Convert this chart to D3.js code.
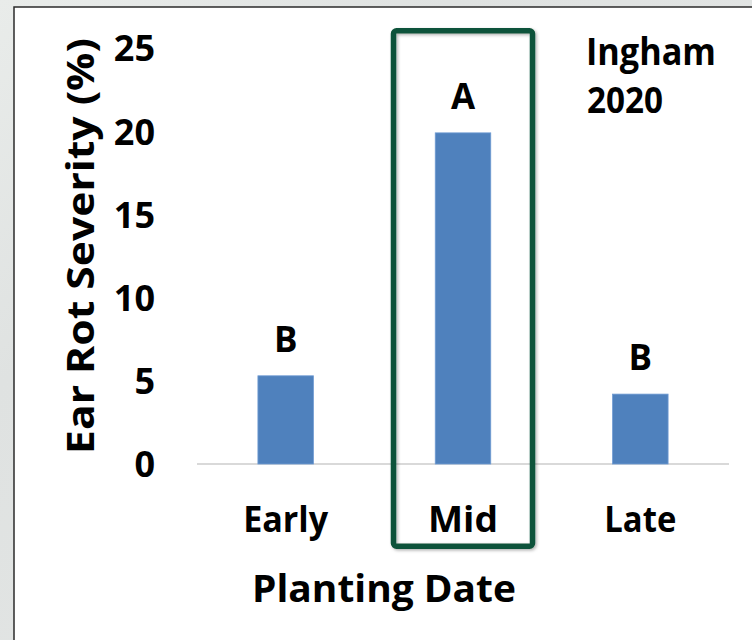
<!DOCTYPE html>
<html>
<head>
<meta charset="utf-8">
<script src="https://cdn.jsdelivr.net/npm/d3@7/dist/d3.min.js"></script>
<style>
  html, body { margin: 0; padding: 0; background: #e4e7e6; }
  svg { display: block; }
  text { font-family: "Open Sans", "DejaVu Sans", sans-serif; font-weight: 700; fill: #000; }
</style>
</head>
<body>
<svg id="chart" width="752" height="640"></svg>
<script>
// Ear rot severity by planting date, Ingham 2020
const categories = ["Early", "Mid", "Late"];
const severity = [5.3, 19.9, 4.2];
const groupLetters = ["B", "A", "B"];
const yTicks = [0, 5, 10, 15, 20, 25];
const highlighted = "Mid";

const svg = d3.select("#chart");
const W = 752, H = 640;

// slide backdrop
const defs = svg.append("defs");
const bg = defs.append("linearGradient").attr("id", "bg").attr("x1", 0).attr("y1", 0).attr("x2", 1).attr("y2", 1);
bg.append("stop").attr("offset", 0).attr("stop-color", "#e9ecea");
bg.append("stop").attr("offset", 0.3).attr("stop-color", "#dfe2e1");
bg.append("stop").attr("offset", 1).attr("stop-color", "#e6e8e7");
svg.append("rect").attr("width", W).attr("height", H).attr("fill", "url(#bg)");

const shadow = defs.append("filter").attr("id", "shadow")
  .attr("x", "-10%").attr("y", "-10%").attr("width", "120%").attr("height", "120%");
shadow.append("feDropShadow").attr("dx", 1.5).attr("dy", 1.5).attr("stdDeviation", 1.5)
  .attr("flood-color", "#000").attr("flood-opacity", 0.3);

// white chart panel with dark top/left edge
const panel = { x: 14, y: 7 };
svg.append("rect").attr("x", panel.x).attr("y", panel.y)
  .attr("width", W - panel.x).attr("height", H - panel.y).attr("fill", "#fff");
svg.append("path")
  .attr("d", `M${panel.x},${H} V${panel.y} H${W}`)
  .attr("fill", "none").attr("stroke", "#2b2b2b").attr("stroke-width", 1.5);

// scales
const plot = { left: 197, right: 729, top: 48, bottom: 464 };
const x = d3.scaleBand().domain(categories).range([plot.left, plot.right])
  .paddingInner(0.687).paddingOuter(0.3435);
const y = d3.scaleLinear().domain([0, 25]).range([plot.bottom, plot.top]);

function fit(sel, len) {
  sel.attr("textLength", len).attr("lengthAdjust", "spacingAndGlyphs");
  return sel;
}

// value axis (labels only)
const yAxis = svg.append("g")
  .attr("transform", "translate(155,0)")
  .call(d3.axisLeft(y).tickValues(yTicks).tickSize(0).tickPadding(0));
yAxis.select(".domain").remove();
yAxis.selectAll("text")
  .attr("font-size", 36).attr("font-family", null).attr("dy", "0.36em").attr("fill", "#000");

// baseline
svg.append("line")
  .attr("x1", plot.left).attr("x2", plot.right)
  .attr("y1", y(0)).attr("y2", y(0))
  .attr("stroke", "#d9d9d9").attr("stroke-width", 2);

// bars
const rows = categories.map((c, i) => ({ cat: c, v: severity[i], g: groupLetters[i] }));
svg.append("g").selectAll("rect").data(rows).join("rect")
  .attr("x", d => x(d.cat))
  .attr("y", d => y(d.v))
  .attr("width", x.bandwidth())
  .attr("height", d => y(0) - y(d.v))
  .attr("fill", "#4f81bd")
  .attr("stroke", "#6f9bd3").attr("stroke-width", 0.8);

// significance letters
svg.append("g").selectAll("text").data(rows).join("text")
  .attr("x", d => x(d.cat) + x.bandwidth() / 2)
  .attr("y", d => y(d.v) - 24)
  .attr("text-anchor", "middle")
  .attr("font-size", 35)
  .text(d => d.g);

// category labels
const catWidths = { Early: 85, Mid: 70, Late: 72 };
svg.append("g").selectAll("text").data(categories).join("text")
  .attr("x", d => x(d) + x.bandwidth() / 2)
  .attr("y", 532)
  .attr("text-anchor", "middle")
  .attr("font-size", 35)
  .text(d => d)
  .each(function (d) { fit(d3.select(this), catWidths[d]); });

// highlight frame around the selected planting date
const hx = x(highlighted) + x.bandwidth() / 2;
svg.append("rect")
  .attr("x", hx - 69.5).attr("y", 30.75)
  .attr("width", 139).attr("height", 515.5)
  .attr("rx", 3).attr("ry", 3)
  .attr("fill", "none")
  .attr("stroke", "#11533a").attr("stroke-width", 5.5)
  .attr("filter", "url(#shadow)");

// axis titles
fit(svg.append("text")
  .attr("transform", "translate(94,246) rotate(-90)")
  .attr("text-anchor", "middle")
  .attr("font-size", 37)
  .text("Ear Rot Severity (%)"), 416);

fit(svg.append("text")
  .attr("x", 384).attr("y", 602)
  .attr("text-anchor", "middle")
  .attr("font-size", 37)
  .text("Planting Date"), 264);

// site / year label
fit(svg.append("text").attr("x", 586).attr("y", 65).attr("font-size", 37).text("Ingham"), 130);
fit(svg.append("text").attr("x", 587).attr("y", 113).attr("font-size", 36).text("2020"), 76);
</script>
</body>
</html>
